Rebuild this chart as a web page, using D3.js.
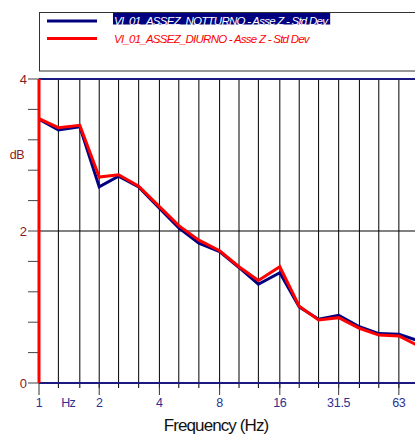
<!DOCTYPE html>
<html>
<head>
<meta charset="utf-8">
<script src="https://cdn.jsdelivr.net/npm/d3@7/dist/d3.min.js"></script>
<style>
  html, body { margin: 0; padding: 0; background: #fff; overflow: hidden; }
  svg { display: block; font-family: "Liberation Sans", Arial, sans-serif; }
</style>
</head>
<body>
<svg id="chart" width="415" height="435"></svg>
<script>
// One-third octave band centre frequencies (Hz)
const bands = [1, 1.25, 1.6, 2, 2.5, 3.15, 4, 5, 6.3, 8, 10, 12.5, 16, 20, 25, 31.5, 40, 50, 63, 80];

// Standard deviation per band (dB)
const notturno = [3.47, 3.33, 3.37, 2.58, 2.72, 2.58, 2.30, 2.04, 1.84, 1.73, 1.52, 1.30, 1.45, 1.00, 0.84, 0.89, 0.74, 0.65, 0.64, 0.55];
const diurno   = [3.48, 3.36, 3.39, 2.71, 2.74, 2.59, 2.32, 2.07, 1.88, 1.74, 1.53, 1.35, 1.53, 1.01, 0.83, 0.86, 0.72, 0.63, 0.62, 0.48];

const seriesNames = [
  "VI_01_ASSEZ_NOTTURNO - Asse Z - Std Dev",
  "VI_01_ASSEZ_DIURNO - Asse Z - Std Dev"
];
const seriesColors = ["#000080", "#ff0000"];

const xTickValues = [1, 2, 4, 8, 16, 31.5, 63];
const xTickLabels = ["1", "2", "4", "8", "16", "31.5", "63"];
const yMajorTicks = [0, 2, 4];
const yMinorTicks = [0.4, 0.8, 1.2, 1.6, 2.4, 2.8, 3.2, 3.6];

const svg = d3.select("#chart");

const x = d3.scaleLog().domain([1, 80]).range([39, 39 + 200 * Math.log10(80)]);
const y = d3.scaleLinear().domain([0, 4]).range([383, 79]);

const axisRed = "#8b1a1a";
const axisBlue = "#2e3192";

// Vertical grid at every band
svg.append("g").selectAll("line")
  .data(bands.slice(1))
  .join("line")
  .attr("x1", d => x(d)).attr("x2", d => x(d))
  .attr("y1", y(4)).attr("y2", y(0) + 5)
  .attr("stroke", "#000").attr("stroke-width", 1);

// Longer ticks below the labelled frequencies
svg.append("g").selectAll("line")
  .data(xTickValues)
  .join("line")
  .attr("x1", d => x(d)).attr("x2", d => x(d))
  .attr("y1", y(0)).attr("y2", y(0) + 12)
  .attr("stroke", "#333").attr("stroke-width", 1);

// Horizontal grid at 2 dB
svg.append("line")
  .attr("x1", x(1)).attr("x2", 415)
  .attr("y1", y(2)).attr("y2", y(2))
  .attr("stroke", "#000").attr("stroke-width", 1);

// Top and bottom frame lines
[0, 4].forEach(v => {
  svg.append("line")
    .attr("x1", x(1)).attr("x2", 415)
    .attr("y1", y(v)).attr("y2", y(v))
    .attr("stroke", "#1a1a80").attr("stroke-width", 2);
});

// Y ticks
svg.append("g").selectAll("line")
  .data(yMajorTicks.concat(yMinorTicks))
  .join("line")
  .attr("x1", 28).attr("x2", x(1))
  .attr("y1", d => y(d)).attr("y2", d => y(d))
  .attr("stroke", "#444").attr("stroke-width", 1);

svg.append("g").selectAll("text")
  .data(yMajorTicks)
  .join("text")
  .attr("x", 27).attr("y", d => y(d) + 4.5)
  .attr("text-anchor", "end")
  .attr("font-size", 13)
  .attr("fill", axisRed)
  .text(d => d);

svg.append("text")
  .attr("x", 17).attr("y", 159)
  .attr("text-anchor", "middle")
  .attr("font-size", 12.5)
  .attr("letter-spacing", -0.5)
  .attr("fill", axisRed)
  .text("dB");

// X tick labels
svg.append("g").selectAll("text")
  .data(xTickValues)
  .join("text")
  .attr("x", (d, i) => x(d))
  .attr("y", 407)
  .attr("text-anchor", "middle")
  .attr("font-size", 12.5)
  .attr("letter-spacing", -0.3)
  .attr("fill", axisBlue)
  .text((d, i) => xTickLabels[i]);

svg.append("text")
  .attr("x", x(1.4)).attr("y", 407)
  .attr("text-anchor", "middle")
  .attr("font-size", 12.5)
  .attr("letter-spacing", -0.6)
  .attr("fill", axisBlue)
  .text("Hz");

svg.append("text")
  .attr("x", 216).attr("y", 431)
  .attr("text-anchor", "middle")
  .attr("font-size", 17)
  .attr("letter-spacing", -0.9)
  .attr("fill", "#111")
  .text("Frequency (Hz)");

// Series lines
const line = d3.line().x((d, i) => x(bands[i])).y(d => y(d));
[notturno, diurno].forEach((vals, k) => {
  svg.append("path")
    .datum(vals)
    .attr("d", line)
    .attr("fill", "none")
    .attr("stroke", seriesColors[k])
    .attr("stroke-width", 3)
    .attr("stroke-linejoin", "miter");
});

// Left axis line
svg.append("line")
  .attr("x1", x(1)).attr("x2", x(1))
  .attr("y1", y(4)).attr("y2", y(0))
  .attr("stroke", "#ff0000").attr("stroke-width", 3);

// Legend
const legend = svg.append("g");
legend.append("rect")
  .attr("x", 39.5).attr("y", 12.5)
  .attr("width", 400).attr("height", 58.5)
  .attr("fill", "#fff")
  .attr("stroke", "#333").attr("stroke-width", 1);

seriesNames.forEach((name, k) => {
  const cy = 21 + k * 17.5;
  legend.append("line")
    .attr("x1", 47).attr("x2", 97)
    .attr("y1", cy).attr("y2", cy)
    .attr("stroke", seriesColors[k]).attr("stroke-width", 3);
  const t = legend.append("text")
    .attr("x", 114).attr("y", cy + 4)
    .attr("font-size", 11.5)
    .attr("font-style", "italic")
    .attr("letter-spacing", -0.75)
    .attr("fill", k === 0 ? "#fff" : "#ff0000")
    .text(name);
  if (k === 0) {
    const bb = t.node().getBBox();
    legend.insert("rect", "text")
      .attr("x", 113).attr("y", 13)
      .attr("width", bb.width + 2).attr("height", 11.5)
      .attr("fill", "#000080");
  }
});
</script>
</body>
</html>
